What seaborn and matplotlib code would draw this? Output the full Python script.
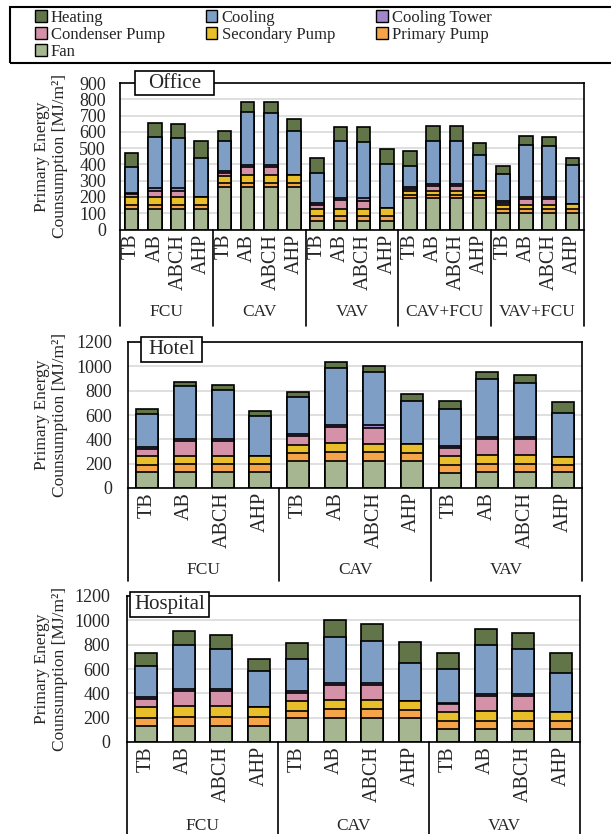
import numpy as np
import pandas as pd
import matplotlib
matplotlib.use("Agg")
import matplotlib.pyplot as plt
import matplotlib.transforms as mtransforms
from matplotlib.patches import Patch, Rectangle
import seaborn as sns

sns.set_style("white")
plt.rcParams["font.family"] = ["Liberation Serif", "DejaVu Serif"]

# Stack order from the bottom of each bar to the top
COMPONENTS = ["Fan", "Primary Pump", "Secondary Pump", "Condenser Pump",
              "Cooling Tower", "Cooling", "Heating"]
COLORS = {
    "Heating": "#617549",
    "Cooling": "#7f9ec6",
    "Cooling Tower": "#a186c9",
    "Condenser Pump": "#d491a8",
    "Secondary Pump": "#e8bf2a",
    "Primary Pump": "#f5a449",
    "Fan": "#a6b690",
}

SOURCE_TYPES = ["TB", "AB", "ABCH", "AHP"]
office_systems = ["FCU", "CAV", "VAV", "CAV+FCU", "VAV+FCU"]
hotel_systems = ["FCU", "CAV", "VAV"]
hospital_systems = ["FCU", "CAV", "VAV"]

# Office [MJ/m2], four source types per air-side system
office_fan = [123, 123, 123, 123, 259, 259, 259, 259, 53, 53, 53, 53,
              191, 191, 191, 191, 99, 99, 99, 99]
office_primary = [27, 27, 27, 27, 28, 28, 28, 28, 29, 27, 29, 31,
                  20, 20, 20, 20, 24, 24, 24, 24]
office_secondary = [47, 47, 47, 47, 42, 48, 48, 48, 47, 45, 47, 51,
                    25, 25, 25, 27, 29, 29, 29, 31]
office_condenser = [19, 41, 41, 0, 20, 47, 47, 0, 21, 56, 48, 0,
                    12, 31, 31, 0, 12, 33, 33, 0]
office_tower = [10, 14, 14, 0, 12, 14, 14, 0, 10, 12, 16, 0,
                11, 12, 12, 0, 13, 16, 16, 0]
office_cooling = [160, 315, 309, 240, 183, 325, 322, 269, 187, 351, 347, 265,
                  133, 267, 267, 218, 162, 319, 315, 244]
office_heating = [86, 86, 88, 105, 64, 65, 64, 74, 94, 88, 88, 93,
                  93, 91, 91, 78, 51, 55, 55, 43]

# Hotel [MJ/m2]
hotel_fan = [128, 128, 128, 128, 219, 219, 221, 221, 126, 128, 128, 128]
hotel_primary = [63, 66, 66, 66, 65, 73, 71, 69, 65, 69, 69, 61]
hotel_secondary = [69, 68, 68, 66, 71, 74, 71, 68, 71, 73, 73, 68]
hotel_condenser = [62, 123, 123, 0, 71, 137, 134, 0, 69, 132, 132, 0]
hotel_tower = [11, 14, 14, 0, 14, 16, 17, 0, 11, 16, 16, 0]
hotel_cooling = [279, 437, 404, 330, 309, 470, 442, 358, 306, 478, 448, 363]
hotel_heating = [38, 38, 41, 44, 43, 44, 49, 60, 65, 60, 60, 85]

# Hospital [MJ/m2]
hospital_fan = [129, 129, 129, 129, 200, 200, 200, 200, 104, 104, 104, 104]
hospital_primary = [68, 74, 74, 74, 58, 68, 68, 63, 66, 66, 66, 66]
hospital_secondary = [88, 90, 90, 82, 82, 80, 77, 77, 77, 82, 82, 77]
hospital_condenser = [71, 123, 123, 0, 65, 123, 123, 0, 65, 126, 126, 0]
hospital_tower = [11, 17, 17, 0, 11, 17, 14, 0, 11, 17, 17, 0]
hospital_cooling = [255, 364, 329, 296, 263, 375, 348, 307, 274, 400, 367, 317]
hospital_heating = [112, 113, 115, 98, 137, 140, 140, 175, 137, 137, 137, 170]

W, H = 611, 834
fig = plt.figure(figsize=(W / 100, H / 100), dpi=100)


def px_axes(left, top, right, bottom):
    return fig.add_axes([left / W, 1 - bottom / H, (right - left) / W, (bottom - top) / H])


def title_box(text, left, top, right, bottom):
    fig.patches.append(Rectangle((left / W, 1 - bottom / H), (right - left) / W,
                                 (bottom - top) / H, transform=fig.transFigure,
                                 fc="white", ec="black", lw=1.2, zorder=20))
    fig.text((left + right) / 2 / W, 1 - (top + bottom) / 2 / H, text,
             ha="center", va="center", fontsize=15, zorder=21)


def draw_panel(ax, systems, parts, ymax, ystep, label_x, group_y,
               sep_depth, ypad):
    bars = [f"{s} {t}" for s in systems for t in SOURCE_TYPES]
    df = pd.DataFrame({"bar": bars})
    running = np.zeros(len(bars))
    for comp in COMPONENTS:
        running = running + np.asarray(parts[comp], dtype=float)
        df[comp] = running.copy()
    # tallest cumulative layer first, each lower layer painted over it
    for comp in reversed(COMPONENTS):
        sns.barplot(data=df, x="bar", y=comp, order=bars, color=COLORS[comp],
                    saturation=1, width=0.58, edgecolor="black",
                    linewidth=1.2, errorbar=None, ax=ax)
    n = len(bars)
    ax.set_xlim(-0.5, n - 0.5)
    ax.set_ylim(0, ymax)
    ax.set_yticks(np.arange(0, ymax + 1, ystep))
    ax.set_xticks(range(n))
    ax.set_xticklabels([t for s in systems for t in SOURCE_TYPES],
                       rotation=90, fontsize=14.5)
    ax.tick_params(axis="x", length=0, pad=3)
    ax.tick_params(axis="y", length=0, pad=ypad, labelsize=13)
    ax.set_xlabel("")
    ax.set_ylabel("Primary Energy\nCounsumption [MJ/m²]", fontsize=12.5,
                  linespacing=1.15)
    ax.yaxis.set_label_coords(label_x, 0.5)
    ax.yaxis.grid(True, color="#d9d9d9", lw=1.2)
    ax.set_axisbelow(True)
    for sp in ax.spines.values():
        sp.set_visible(True)
        sp.set_color("black")
        sp.set_linewidth(1.2)
    trans = mtransforms.blended_transform_factory(ax.transData, ax.transAxes)
    per = len(SOURCE_TYPES)
    for k in range(len(systems) + 1):
        xs = k * per - 0.5
        ax.plot([xs, xs], [0, -sep_depth], transform=trans, color="black",
                lw=1.2, clip_on=False)
    for k, s in enumerate(systems):
        ax.text(k * per + (per - 1) / 2, group_y, s, transform=trans,
                ha="center", va="center", fontsize=12.5, clip_on=False)


office = dict(zip(COMPONENTS, [office_fan, office_primary, office_secondary,
                               office_condenser, office_tower, office_cooling,
                               office_heating]))
hotel = dict(zip(COMPONENTS, [hotel_fan, hotel_primary, hotel_secondary,
                              hotel_condenser, hotel_tower, hotel_cooling,
                              hotel_heating]))
hospital = dict(zip(COMPONENTS, [hospital_fan, hospital_primary,
                                 hospital_secondary, hospital_condenser,
                                 hospital_tower, hospital_cooling,
                                 hospital_heating]))

ax1 = px_axes(120, 83, 584, 229.5)
draw_panel(ax1, office_systems, office, 900, 100, -0.112, -0.563, 0.66, 10)
title_box("Office", 135, 71, 214, 95)

ax2 = px_axes(128, 342, 582, 488)
draw_panel(ax2, hotel_systems, hotel, 1200, 200, -0.132, -0.562, 0.637, 11.5)
title_box("Hotel", 141, 337, 202, 362)

ax3 = px_axes(127, 596, 580, 742)
draw_panel(ax3, hospital_systems, hospital, 1200, 200, -0.13, -0.575, 0.7, 12)
title_box("Hospital", 130, 592, 209, 617)

# Legend in a framed strip across the top
fig.patches.append(Rectangle((10 / W, 1 - 63 / H), 1.0, 56 / H,
                             transform=fig.transFigure, fill=False,
                             ec="black", lw=1.5))
legend_order = ["Heating", "Condenser Pump", "Fan", "Cooling",
                "Secondary Pump", "Cooling Tower", "Primary Pump"]
handles = [Patch(facecolor=COLORS[c], edgecolor="black", lw=1.0)
           for c in legend_order]
fig.legend(handles, legend_order, loc="upper left",
           bbox_to_anchor=(35 / W, 1 - 10 / H), ncol=3, frameon=False,
           fontsize=12, borderpad=0, borderaxespad=0, handlelength=0.7,
           handleheight=0.7, handletextpad=0.25, columnspacing=2.45,
           labelspacing=0.05)

fig.savefig("out.png", dpi=100)
